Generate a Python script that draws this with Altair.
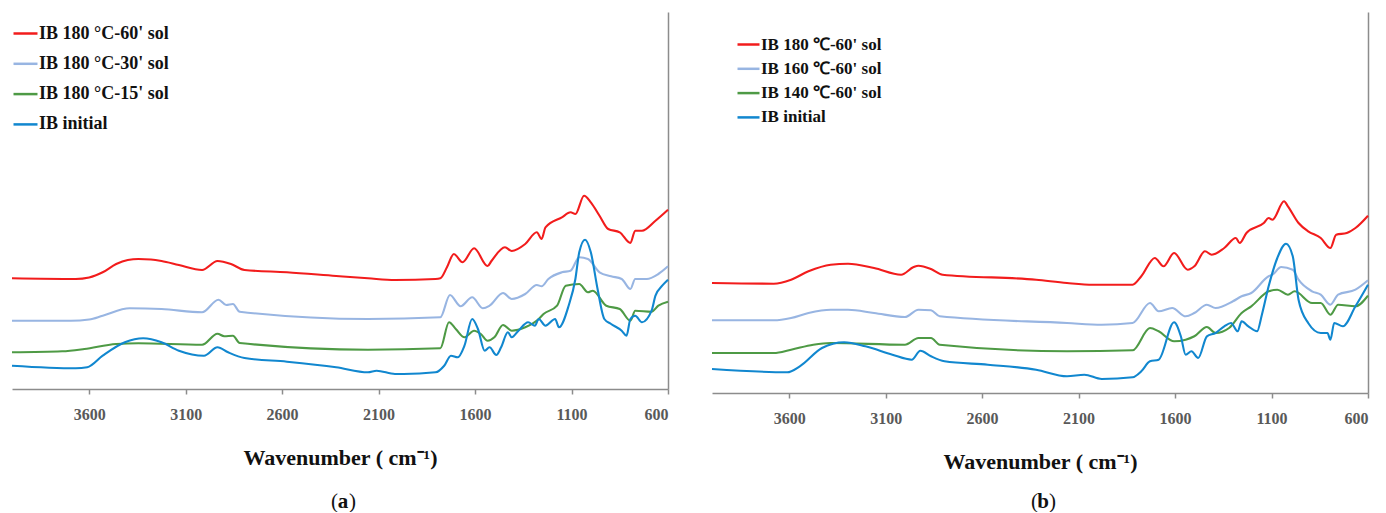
import altair as alt
import pandas as pd

# ---------------- data (wavenumber in cm-1, relative absorbance offset) -------------
series_a = ["IB 180 °C-60' sol", "IB 180 °C-30' sol", "IB 180 °C-15' sol", "IB initial"]
series_b = ["IB 180 ℃-60' sol", "IB 160 ℃-60' sol", "IB 140 ℃-60' sol", "IB initial"]
colors = ["#f21c1c", "#98b5e2", "#4e9a45", "#1187cf"]

# panel (a)
a_red_wn = [4000, 3670, 3600, 3530, 3460, 3400, 3345, 3280, 3225, 3135, 3015, 2935, 2865, 2795, 2575, 2320, 2155,
            2015, 1805, 1780, 1745, 1710, 1665, 1605, 1535, 1515, 1445, 1410, 1340, 1280, 1255, 1235, 1150, 1105,
            1080, 1035, 1000, 955, 910, 850, 795, 770, 735, 665, 600]
a_red_v = [110.7, 110, 111.5, 116.7, 125, 129, 130, 129.5, 128, 124, 119, 128, 125, 119, 116.7, 113, 110.7,
           109, 110, 110.7, 122, 135, 126.7, 140.7, 123, 128, 141.7, 138, 145, 156.7, 150, 161.7, 171.7, 176.7,
           175, 193.3, 186.7, 173.3, 160, 156.7, 146, 158.3, 158.3, 168.3, 179.3]

a_lb_wn = [4000, 3695, 3600, 3530, 3390, 3225, 3015, 2930, 2890, 2855, 2820, 2155, 1780, 1730, 1675, 1615, 1560,
           1525, 1455, 1410, 1340, 1280, 1255, 1220, 1150, 1105, 1060, 1015, 955, 895, 840, 795, 770, 710, 650, 600]
a_lb_v = [68.3, 68.3, 69.5, 73.3, 80.7, 80, 76.7, 89.3, 84, 85, 77.3, 70, 71.7, 94, 82.7, 91.7, 80.7,
          83.3, 96, 90, 95, 104, 102.7, 110, 116.7, 118.3, 131.7, 130, 116.7, 112.7, 110, 100, 110, 110, 115, 122.7]

a_gr_wn = [4000, 3740, 3625, 3460, 3345, 3015, 2935, 2900, 2855, 2820, 2155, 1780, 1735, 1700, 1655, 1605, 1570,
           1535, 1500, 1455, 1410, 1340, 1270, 1245, 1175, 1130, 1060, 1015, 990, 920, 850, 795, 770, 685, 650, 600]
a_gr_v = [36.7, 37.7, 40, 45, 45.7, 44.3, 55.3, 52.7, 53.3, 46, 39.3, 40.7, 66.7, 60, 51.7, 58.3, 55,
          48.3, 51.7, 64, 58.3, 61.7, 70, 75, 83.3, 103.3, 105, 96.7, 98.3, 83.3, 80, 68.3, 78.3, 77.3, 83.3, 87.3]

a_bl_wn = [4000, 3670, 3610, 3530, 3415, 3320, 3225, 3135, 3005, 2935, 2880, 2795, 2575, 2320, 2155, 2110, 2015,
           1970, 1805, 1760, 1725, 1690, 1655, 1615, 1585, 1550, 1525, 1490, 1465, 1430, 1410, 1375, 1325, 1290,
           1270, 1235, 1185, 1165, 1115, 1080, 1060, 1030, 1000, 965, 930, 895, 840, 815, 795, 770, 735, 685,
           665, 630, 600]
a_bl_v = [23.3, 20.7, 21.7, 33.3, 46.7, 50.7, 46.7, 38.3, 33.3, 41.7, 36.7, 31, 27.3, 21.7, 16.7, 18.3, 15,
          15, 16.7, 23.3, 33.3, 31.7, 43.3, 70, 60, 38.3, 41.7, 34, 41.7, 56.7, 51.7, 58.3, 66.7, 63.3,
          70, 63.3, 70, 61.7, 83.3, 110, 136.7, 149.3, 136.7, 100, 70, 65, 58.3, 53.3, 70, 73.3, 66.7, 78.3,
          93.3, 103.3, 109.3]

# panel (b)
b_red_wn = [4000, 3680, 3590, 3500, 3385, 3295, 3160, 3020, 2955, 2930, 2865, 2805, 2320, 2160, 2025, 1820, 1775,
            1705, 1660, 1605, 1535, 1500, 1445, 1410, 1345, 1285, 1265, 1230, 1140, 1115, 1095, 1035, 1015, 960,
            910, 845, 795, 765, 710, 665, 600]
b_red_v = [110, 109.3, 113.3, 121.7, 128.3, 129.3, 125, 118.3, 126, 127.3, 124, 118.3, 113.3, 110, 108.3, 108.3,
           116.7, 135, 126.7, 140, 123.3, 126.7, 141.7, 138.3, 145, 155, 150, 160, 170, 175, 173.3, 191.7, 186.7,
           170, 161.7, 155, 145, 158.3, 160, 165, 177.3]

b_lb_wn = [4000, 3680, 3590, 3500, 3385, 3295, 3160, 3000, 2930, 2865, 2820, 2160, 1980, 1820, 1730, 1685, 1615,
           1545, 1500, 1435, 1390, 1300, 1255, 1205, 1115, 1095, 1050, 990, 960, 890, 845, 795, 755, 665, 600]
b_lb_v = [72.7, 72.7, 75, 80, 83.3, 83.3, 80, 76, 83.3, 82.7, 76.7, 70, 68.3, 70, 90, 81.7, 85,
          76.7, 80, 88.3, 85, 91.7, 96.7, 100, 116.7, 118.3, 126, 123.3, 113.3, 101.7, 98.3, 88.3, 98.3, 103.3, 112.7]

b_gr_wn = [4000, 3680, 3590, 3475, 3385, 3000, 2930, 2865, 2820, 2160, 1820, 1730, 1685, 1605, 1545, 1500, 1435,
           1390, 1320, 1255, 1205, 1115, 1070, 1015, 980, 890, 845, 795, 755, 665, 600]
b_gr_v = [40, 40, 43.3, 48.3, 50, 48.3, 55, 55, 48.3, 41.7, 42.7, 65, 61.7, 51.7, 53.3, 56.7, 66,
          60, 65, 80, 86.7, 101.7, 103.3, 98.3, 101.7, 90, 90, 78.3, 88.3, 86.7, 97.3]

b_bl_wn = [4000, 3610, 3545, 3430, 3315, 3205, 3065, 2965, 2920, 2865, 2795, 2570, 2320, 2160, 2070, 1980, 1820,
           1775, 1730, 1685, 1605, 1570, 1545, 1515, 1480, 1435, 1390, 1345, 1310, 1275, 1255, 1220, 1175, 1150,
           1115, 1070, 1025, 990, 960, 910, 845, 810, 795, 775, 730, 665, 600]
b_bl_v = [24, 20.7, 26.7, 45, 50.7, 46.7, 38.3, 33.3, 42.3, 36.7, 31.7, 28.3, 23.3, 16.7, 18.3, 14, 15.7,
          21.7, 31.7, 33.3, 70.7, 56.7, 38.3, 41.7, 35, 56.7, 60, 66.7, 70, 61.7, 71.7, 66.7, 61.7, 78.3,
          106.7, 135, 149.3, 136.7, 93.3, 70, 60, 60, 53.3, 70, 66.7, 86.7, 108.3]

wn_ticks = [3600, 3100, 2600, 2100, 1600, 1100, 600]

FONT = "Liberation Serif"
GREY = "#8c8c8c"


def frame(names, pairs):
    rows = []
    for k, (name, (wn, v)) in enumerate(zip(names, pairs)):
        for w, y in zip(wn, v):
            rows.append({"wn": w, "val": y, "series": name, "k": k})
    return pd.DataFrame(rows)


def panel(names, pairs, ymax, height, letter, leg_x, leg_y, sym, row_pad, lab_size):
    df = frame(names, pairs)
    lines = alt.Chart(df).mark_line(strokeWidth=2.1, interpolate="monotone").encode(
        x=alt.X("wn:Q", scale=alt.Scale(domain=[4000, 600], nice=False, zero=False),
                axis=alt.Axis(values=wn_ticks, format="d", title="Wavenumber ( cm⁻¹)", grid=False,
                              domainColor=GREY, domainWidth=1.5, tickColor=GREY, tickWidth=1.5, tickSize=5,
                              labelColor="#595959", labelFont=FONT, labelFontWeight="bold", labelFontSize=16,
                              labelPadding=12, titleFont=FONT, titleFontSize=22, titleFontWeight="bold",
                              titleColor="#111111", titlePadding=25)),
        y=alt.Y("val:Q", scale=alt.Scale(domain=[0, ymax], nice=False, zero=True),
                axis=alt.Axis(orient="right", labels=False, ticks=False, grid=False, title=None,
                              domainColor=GREY, domainWidth=1.5)),
        color=alt.Color("series:N", scale=alt.Scale(domain=names, range=colors),
                        legend=alt.Legend(orient="none", legendX=leg_x, legendY=leg_y, title=None,
                                          symbolType="stroke", symbolSize=sym, symbolStrokeWidth=2.5,
                                          labelFont=FONT, labelFontWeight="bold", labelFontSize=lab_size,
                                          labelColor="#111111", rowPadding=row_pad, labelOffset=0,
                                          padding=0, labelLimit=400)),
        order=alt.Order("k:Q"),
        detail="series:N",
    )
    cx = 331
    yy = 490
    mid = alt.Chart(pd.DataFrame({"t": [letter]})).mark_text(
        font=FONT, fontSize=21, fontWeight="bold", color="#111111", align="center", baseline="middle").encode(
        x=alt.value(cx), y=alt.value(yy), text="t:N")
    left = alt.Chart(pd.DataFrame({"t": ["("]})).mark_text(
        font=FONT, fontSize=21, color="#111111", align="right", baseline="middle").encode(
        x=alt.value(cx - 5), y=alt.value(yy), text="t:N")
    right = alt.Chart(pd.DataFrame({"t": [")"]})).mark_text(
        font=FONT, fontSize=21, color="#111111", align="left", baseline="middle").encode(
        x=alt.value(cx + 6), y=alt.value(yy), text="t:N")
    return alt.layer(lines, left, mid, right).properties(width=656, height=height)


pa = panel(series_a, [(a_red_wn, a_red_v), (a_lb_wn, a_lb_v), (a_gr_wn, a_gr_v), (a_bl_wn, a_bl_v)],
           377, 377, "a", 0, 8, 576, 7.3, 18)
pb = panel(series_b, [(b_red_wn, b_red_v), (b_lb_wn, b_lb_v), (b_gr_wn, b_gr_v), (b_bl_wn, b_bl_v)],
           381, 381, "b", 24, 20, 484, 3.3, 17)

chart = alt.hconcat(pa, pb, spacing=44, bounds="flush").resolve_scale(color="independent").properties(
    padding={"left": 7, "top": 12, "right": 0, "bottom": 0},
    background="white",
).configure_view(stroke=None)

chart.save("out.html", embed_options={"renderer": "svg", "actions": False})
